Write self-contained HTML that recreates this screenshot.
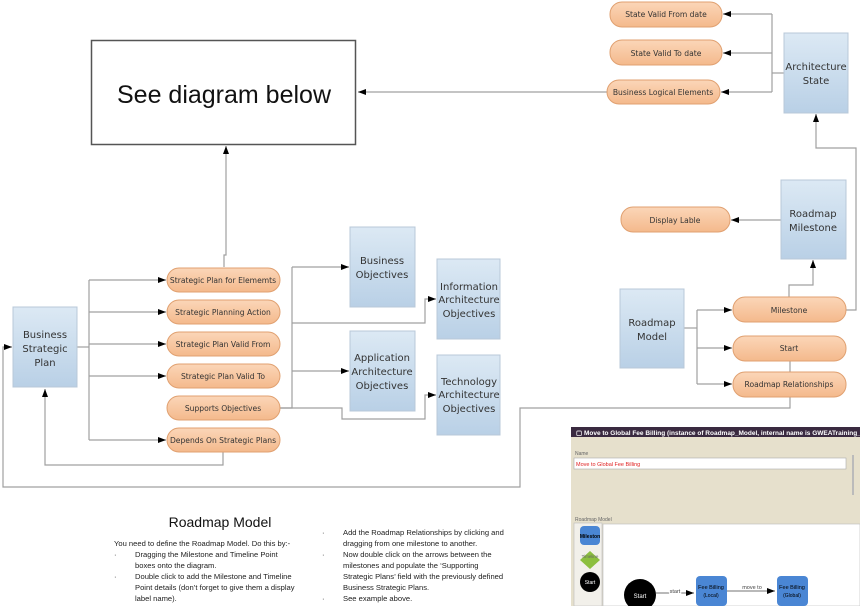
<!DOCTYPE html>
<html><head><meta charset="utf-8"><style>
html,body{margin:0;padding:0;background:#fff;}
svg{display:block;font-family:"Liberation Sans",sans-serif;}
.b{font-family:"DejaVu Sans","Liberation Sans",sans-serif;}
</style></head><body>
<svg width="860" height="606" viewBox="0 0 860 606" xmlns="http://www.w3.org/2000/svg">
<defs>
<linearGradient id="bl" x1="0" y1="0" x2="0" y2="1"><stop offset="0" stop-color="#dce9f4"/><stop offset="1" stop-color="#b9d0e6"/></linearGradient>
<linearGradient id="or" x1="0" y1="0" x2="0" y2="1"><stop offset="0" stop-color="#fbd6b8"/><stop offset="1" stop-color="#f4b98c"/></linearGradient>
<marker id="a" markerWidth="8" markerHeight="6" refX="8" refY="3" orient="auto" markerUnits="userSpaceOnUse"><path d="M0,0 L8,3 L0,6z" fill="#000"/></marker>
</defs>
<g fill="none" stroke="#a0a0a0" stroke-width="1.2">
<path d="M224,267 V255 H226 V146" marker-end="url(#a)"/>
<path d="M77,347 H89"/>
<path d="M89,280 V440"/>
<path d="M89,280 H166" marker-end="url(#a)"/>
<path d="M89,312 H166" marker-end="url(#a)"/>
<path d="M89,344 H166" marker-end="url(#a)"/>
<path d="M89,376 H166" marker-end="url(#a)"/>
<path d="M89,440 H166" marker-end="url(#a)"/>
<path d="M223,452 V465 H45 V389" marker-end="url(#a)"/>
<path d="M280,408 H292 V267"/>
<path d="M292,267 H349" marker-end="url(#a)"/>
<path d="M292,371 H349" marker-end="url(#a)"/>
<path d="M292,323 H425 V299 H436" marker-end="url(#a)"/>
<path d="M280,408 H342 V419 H425 V395 H436" marker-end="url(#a)"/>
<path d="M790,397 V408 H520 V487 H3 V347 H12" marker-end="url(#a)"/>
<path d="M784,73 H772"/>
<path d="M772,14 V92"/>
<path d="M772,14 H723" marker-end="url(#a)"/>
<path d="M772,53 H723" marker-end="url(#a)"/>
<path d="M772,92 H721" marker-end="url(#a)"/>
<path d="M607,92 H358" marker-end="url(#a)"/>
<path d="M781,220 H731" marker-end="url(#a)"/>
<path d="M684,328 H697"/>
<path d="M697,310 V384"/>
<path d="M697,310 H732" marker-end="url(#a)"/>
<path d="M697,348 H732" marker-end="url(#a)"/>
<path d="M697,384 H732" marker-end="url(#a)"/>
<path d="M789,297 V285 H813 V260" marker-end="url(#a)"/>
<path d="M846,310 H856 V148 H816 V114" marker-end="url(#a)"/>
<path d="M790,361 V372"/>
</g>
<rect x="91.5" y="40.5" width="264" height="104" fill="#fff" stroke="#555" stroke-width="1.5"/>
<text x="224" y="103" font-size="25" text-anchor="middle" fill="#111">See diagram below</text>
<g stroke="#b8c8d8" fill="url(#bl)">
<rect x="13" y="307" width="64" height="80"/>
<rect x="350" y="227" width="65" height="80"/>
<rect x="350" y="331" width="65" height="80"/>
<rect x="437" y="259" width="63" height="80"/>
<rect x="437" y="355" width="63" height="80"/>
<rect x="784" y="33" width="64" height="80"/>
<rect x="781" y="180" width="65" height="79"/>
<rect x="620" y="289" width="64" height="79"/>
</g>
<g class="b" font-size="10" fill="#333" text-anchor="middle">
<text x="45" y="338">Business</text><text x="45" y="352">Strategic</text><text x="45" y="366">Plan</text>
<text x="382" y="264">Business</text><text x="382" y="278">Objectives</text>
<text x="382" y="361">Application</text><text x="382" y="375">Architecture</text><text x="382" y="389">Objectives</text>
<text x="469" y="290">Information</text><text x="469" y="303">Architecture</text><text x="469" y="317">Objectives</text>
<text x="469" y="385">Technology</text><text x="469" y="398">Architecture</text><text x="469" y="412">Objectives</text>
<text x="816" y="70">Architecture</text><text x="816" y="84">State</text>
<text x="813" y="217">Roadmap</text><text x="813" y="231">Milestone</text>
<text x="652" y="326">Roadmap</text><text x="652" y="340">Model</text>
</g>
<g stroke="#e0a070" fill="url(#or)">
<rect x="167" y="268" width="113" height="24" rx="12"/>
<rect x="167" y="300" width="113" height="24" rx="12"/>
<rect x="167" y="332" width="113" height="24" rx="12"/>
<rect x="167" y="364" width="113" height="24" rx="12"/>
<rect x="167" y="396" width="113" height="24" rx="12"/>
<rect x="167" y="428" width="113" height="24" rx="12"/>
<rect x="610" y="2" width="112" height="25" rx="12"/>
<rect x="610" y="40" width="112" height="25" rx="12"/>
<rect x="607" y="80" width="113" height="24" rx="12"/>
<rect x="621" y="207" width="109" height="25" rx="12"/>
<rect x="733" y="297" width="113" height="25" rx="12"/>
<rect x="733" y="336" width="113" height="25" rx="12"/>
<rect x="733" y="372" width="113" height="25" rx="12"/>
</g>
<g class="b" font-size="7.6" fill="#333" text-anchor="middle">
<text x="223" y="283">Strategic Plan for Elememts</text>
<text x="223" y="315">Strategic Planning Action</text>
<text x="223" y="347">Strategic Plan Valid From</text>
<text x="223" y="379">Strategic Plan Valid To</text>
<text x="223" y="411">Supports Objectives</text>
<text x="223" y="443">Depends On Strategic Plans</text>
<text x="666" y="17">State Valid From date</text>
<text x="666" y="56">State Valid To date</text>
<text x="663" y="95">Business Logical Elements</text>
<text x="675" y="223">Display Lable</text>
<text x="789" y="313">Milestone</text>
<text x="789" y="351">Start</text>
<text x="789" y="387">Roadmap Relationships</text>
</g>
<text x="220" y="527" font-size="14" text-anchor="middle" fill="#111">Roadmap Model</text>
<g font-size="7.6" fill="#222">
<text x="114" y="546">You need to define the Roadmap Model.  Do this by:-</text>
<text x="114" y="557">·</text><text x="135" y="557">Dragging the Milestone and Timeline Point</text>
<text x="135" y="568">boxes onto the diagram.</text>
<text x="114" y="579">·</text><text x="135" y="579">Double click to add the Milestone and Timeline</text>
<text x="135" y="590">Point details (don’t forget to give them a display</text>
<text x="135" y="601">label name).</text>
<text x="322" y="535">·</text><text x="343" y="535">Add the Roadmap Relationships by clicking and</text>
<text x="343" y="546">dragging from one milestone to another.</text>
<text x="322" y="557">·</text><text x="343" y="557">Now double click on the arrows between the</text>
<text x="343" y="568">milestones and populate the ‘Supporting</text>
<text x="343" y="579">Strategic Plans’ field with the previously defined</text>
<text x="343" y="590">Business Strategic Plans.</text>
<text x="322" y="601">·</text><text x="343" y="601">See example above.</text>
</g>
<rect x="571" y="427" width="289" height="179" fill="#e6e0cc"/>
<rect x="571" y="427" width="289" height="10" fill="#3a2a40"/>
<text x="576" y="435" font-size="6.5" fill="#fff" font-weight="bold">▢ Move to Global Fee Billing   (instance of Roadmap_Model, internal name is GWEATraining_Strategy</text>
<text x="575" y="455" font-size="5" fill="#666">Name</text>
<rect x="574" y="458" width="272" height="11" fill="#fff" stroke="#aaa" stroke-width="0.6"/>
<text x="576" y="466" font-size="5.5" fill="#e02020">Move to Global Fee Billing</text>
<rect x="852" y="455" width="2" height="40" fill="#bbb"/>
<text x="575" y="521" font-size="5" fill="#666">Roadmap Model</text>
<rect x="574" y="523" width="28" height="83" fill="#f2f0ea" stroke="#bbb" stroke-width="0.6"/>
<rect x="603" y="524" width="257" height="82" fill="#fff" stroke="#bbb" stroke-width="0.6"/>
<rect x="580" y="526" width="20" height="19" rx="4" fill="#4a86d4"/>
<text x="590" y="538" font-size="5" text-anchor="middle" font-weight="bold">Mileston</text>
<path d="M590,551 L600,560 L590,569 L580,560z" fill="#8cbf3f"/>
<text x="590" y="558" font-size="4.5" text-anchor="middle" fill="#666">Timeline</text>
<circle cx="590" cy="582" r="10" fill="#000"/>
<text x="590" y="584" font-size="5" text-anchor="middle" fill="#fff">Start</text>
<circle cx="640" cy="595" r="16" fill="#000"/>
<text x="640" y="598" font-size="6" text-anchor="middle" fill="#fff">Start</text>
<path d="M656,593 H694" stroke="#444" stroke-width="0.8" marker-end="url(#a)"/>
<text x="675" y="593" font-size="5.5" text-anchor="middle" fill="#444" stroke="#fff" stroke-width="2" paint-order="stroke">start</text>
<rect x="696" y="576" width="31" height="30" rx="4" fill="#4a86d4"/>
<text x="711" y="589" font-size="5.5" text-anchor="middle">Fee Billing</text>
<text x="711" y="597" font-size="5" text-anchor="middle">(Local)</text>
<path d="M727,591 H775" stroke="#444" stroke-width="0.8" marker-end="url(#a)"/>
<text x="752" y="589" font-size="5.5" text-anchor="middle" fill="#444">move to</text>
<rect x="777" y="576" width="31" height="30" rx="4" fill="#4a86d4"/>
<text x="792" y="589" font-size="5.5" text-anchor="middle">Fee Billing</text>
<text x="792" y="597" font-size="5" text-anchor="middle">(Global)</text>
</svg>
</body></html>
